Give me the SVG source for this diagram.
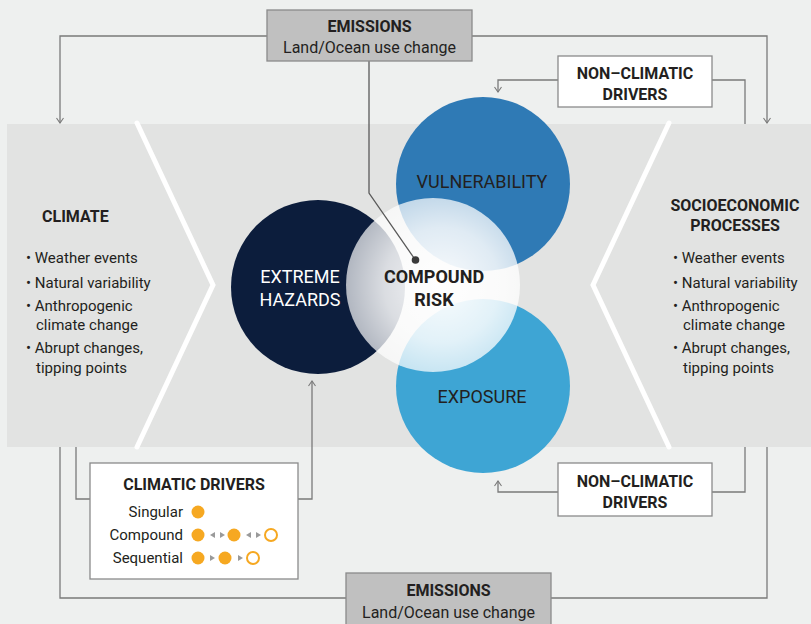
<svg xmlns="http://www.w3.org/2000/svg" width="811" height="624" viewBox="0 0 811 624">
<style>
.ln{fill:none;stroke:#7a7a7a;stroke-width:1.3}
.t{font-family:Roboto,"Liberation Sans",sans-serif;fill:#231f20}
.b{font-weight:bold}
.box{stroke:#8a8a8a;stroke-width:1.3}
.chev{fill:none;stroke:#ffffff;stroke-width:5;stroke-linecap:round;stroke-linejoin:miter}
.dot{fill:#f6a821}
.ring{fill:none;stroke:#f6a821;stroke-width:2}
.tri{fill:#9a9a9a}
</style>
<defs>
<marker id="ah" viewBox="0 0 10 10" refX="9" refY="5" markerWidth="10" markerHeight="10" markerUnits="userSpaceOnUse" orient="auto">
<path d="M4,1.5 L9,5 L4,8.5" fill="none" stroke="#7a7a7a" stroke-width="1.1"/>
</marker>
<radialGradient id="cg" cx="0.55" cy="0.5" r="0.55">
<stop offset="0" stop-color="#ffffff" stop-opacity="0.97"/>
<stop offset="0.6" stop-color="#ffffff" stop-opacity="0.85"/>
<stop offset="1" stop-color="#ffffff" stop-opacity="0.68"/>
</radialGradient>
</defs>
<rect x="0" y="0" width="811" height="624" fill="#eef0ef"/>
<rect x="7" y="124" width="804" height="323" fill="#e2e3e2"/>
<path class="chev" d="M137,123 L213,285 L137,447"/>
<path class="chev" d="M669,123 L593,285 L669,447"/>

<g id="climate">
<text class="t b" x="42" y="222" font-size="16">CLIMATE</text>
<g class="t" font-size="15">
<text x="26" y="263">• Weather events</text>
<text x="26" y="288">• Natural variability</text>
<text x="26" y="311">• Anthropogenic</text>
<text x="36" y="330">climate change</text>
<text x="26" y="353">• Abrupt changes,</text>
<text x="36" y="373">tipping points</text>
</g>
</g>

<g id="socioeconomic">
<text class="t b" x="735" y="211" font-size="16" text-anchor="middle">SOCIOECONOMIC</text>
<text class="t b" x="735" y="231" font-size="16" text-anchor="middle">PROCESSES</text>
<g class="t" font-size="15">
<text x="673" y="263">• Weather events</text>
<text x="673" y="288">• Natural variability</text>
<text x="673" y="311">• Anthropogenic</text>
<text x="683" y="330">climate change</text>
<text x="673" y="353">• Abrupt changes,</text>
<text x="683" y="373">tipping points</text>
</g>
</g>

<g id="vulnerability">
<circle cx="483" cy="184" r="87" fill="#2f7ab5"/>
</g>
<g id="exposure">
<circle cx="483" cy="386" r="87" fill="#3ea5d4"/>
</g>
<g id="extreme-hazards">
<circle cx="318" cy="287" r="87" fill="#0c1d3c"/>
</g>
<g id="compound-risk">
<circle cx="433" cy="285" r="87" fill="url(#cg)"/>
</g>
<g id="labels">
<text class="t" x="482" y="188" font-size="18" text-anchor="middle" fill="#1c2a3c">VULNERABILITY</text>
<text class="t" x="482" y="403" font-size="18" text-anchor="middle" fill="#1c2a3c">EXPOSURE</text>
<text class="t" x="300" y="283" font-size="18" text-anchor="middle" style="fill:#ffffff">EXTREME</text>
<text class="t" x="300" y="306" font-size="18" text-anchor="middle" style="fill:#ffffff">HAZARDS</text>
<text class="t b" x="434" y="283" font-size="18" text-anchor="middle">COMPOUND</text>
<text class="t b" x="434" y="306" font-size="18" text-anchor="middle">RISK</text>
</g>

<g id="connectors">
<path class="ln" d="M267,36 H60 V123" marker-end="url(#ah)"/>
<path class="ln" d="M472,36 H767 V123" marker-end="url(#ah)"/>
<path class="ln" d="M369,61 V193 L414,258" style="stroke:#5a5a5a"/>
<circle cx="415.5" cy="260" r="3.8" fill="#3a3a3a"/>
<path class="ln" d="M558,80 H498 V92" marker-end="url(#ah)"/>
<path class="ln" d="M712,80 H745 V124"/>
<path class="ln" d="M558,492 H498 V481" marker-end="url(#ah)"/>
<path class="ln" d="M712,492 H745 V447"/>
<path class="ln" d="M767,447 V598 H551"/>
<path class="ln" d="M60,447 V598 H346"/>
<path class="ln" d="M76,447 V499 H90"/>
<path class="ln" d="M298,499 H312 V381" marker-end="url(#ah)"/>
</g>

<g id="emissions-top">
<rect class="box" x="267" y="10" width="205" height="51" fill="#c0c0c0"/>
<text class="t b" x="369.5" y="32" font-size="16" text-anchor="middle">EMISSIONS</text>
<text class="t" x="369.5" y="53" font-size="16" text-anchor="middle">Land/Ocean use change</text>
</g>

<g id="nonclimatic-top">
<rect class="box" x="558" y="56" width="154" height="51" fill="#ffffff"/>
<text class="t b" x="635" y="79" font-size="16" text-anchor="middle">NON–CLIMATIC</text>
<text class="t b" x="635" y="100" font-size="16" text-anchor="middle">DRIVERS</text>
</g>

<g id="nonclimatic-bottom">
<rect class="box" x="558" y="463" width="154" height="53" fill="#ffffff"/>
<text class="t b" x="635" y="487" font-size="16" text-anchor="middle">NON–CLIMATIC</text>
<text class="t b" x="635" y="508" font-size="16" text-anchor="middle">DRIVERS</text>
</g>

<g id="emissions-bottom">
<rect class="box" x="346" y="573" width="205" height="60" fill="#c0c0c0"/>
<text class="t b" x="448.5" y="596" font-size="16" text-anchor="middle">EMISSIONS</text>
<text class="t" x="448.5" y="618" font-size="16" text-anchor="middle">Land/Ocean use change</text>
</g>

<g id="climatic-drivers">
<rect class="box" x="90" y="463" width="208" height="116" fill="#ffffff"/>
<text class="t b" x="194" y="490" font-size="16" text-anchor="middle">CLIMATIC DRIVERS</text>
<text class="t" x="183" y="517" font-size="15" text-anchor="end">Singular</text>
<text class="t" x="183" y="540" font-size="15" text-anchor="end">Compound</text>
<text class="t" x="183" y="563" font-size="15" text-anchor="end">Sequential</text>
<circle class="dot" cx="198" cy="512" r="6.5"/>
<circle class="dot" cx="198" cy="535" r="6.5"/>
<path class="tri" d="M210,535 L215,532 L215,538 Z"/>
<path class="tri" d="M225,535 L220,532 L220,538 Z"/>
<circle class="dot" cx="234" cy="535" r="6.5"/>
<path class="tri" d="M246,535 L251,532 L251,538 Z"/>
<path class="tri" d="M261,535 L256,532 L256,538 Z"/>
<circle class="ring" cx="271" cy="535" r="6"/>
<circle class="dot" cx="198" cy="558" r="6.5"/>
<path class="tri" d="M215,558 L210,555 L210,561 Z"/>
<circle class="dot" cx="225" cy="558" r="6.5"/>
<path class="tri" d="M243,558 L238,555 L238,561 Z"/>
<circle class="ring" cx="253" cy="558" r="6"/>
</g>
</svg>
